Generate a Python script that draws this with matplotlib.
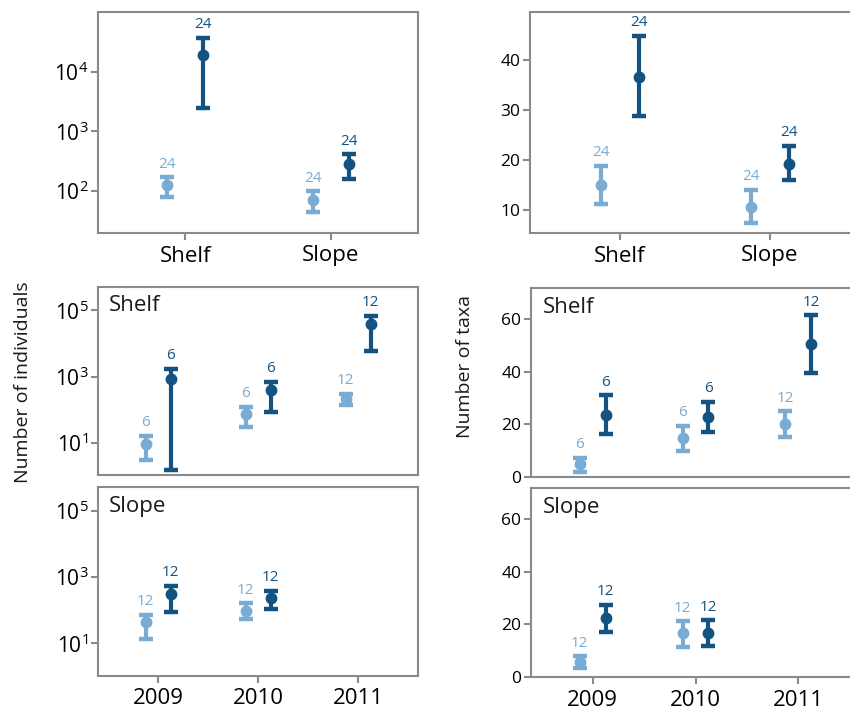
import matplotlib
matplotlib.use('Agg')
import matplotlib.pyplot as plt
import numpy as np

plt.rcParams['font.family'] = ['Open Sans', 'DejaVu Sans']
plt.rcParams['mathtext.fontset'] = 'custom'
plt.rcParams['mathtext.rm'] = 'Open Sans'
plt.rcParams['mathtext.it'] = 'Open Sans:italic'
plt.rcParams['mathtext.bf'] = 'Open Sans:bold'

# ---------------- data ----------------
habitats = ['Shelf', 'Slope']
years = ['2009', '2010', '2011']

# Top row (by habitat) - number of individuals
ind_hab_light = [126, 71]
ind_hab_light_lo = [79, 45]
ind_hab_light_hi = [170, 100]
ind_hab_dark = [19300, 283]
ind_hab_dark_lo = [2500, 160]
ind_hab_dark_hi = [37000, 417]
n_hab_light = [24, 24]
n_hab_dark = [24, 24]

# Top row (by habitat) - number of taxa
tax_hab_light = [15.0, 10.6]
tax_hab_light_lo = [11.2, 7.4]
tax_hab_light_hi = [18.8, 14.0]
tax_hab_dark = [36.6, 19.2]
tax_hab_dark_lo = [28.8, 16.0]
tax_hab_dark_hi = [44.8, 22.8]

# Shelf by year - individuals
ind_shelf_light = [9.3, 71, 215]
ind_shelf_light_lo = [3.0, 30, 140]
ind_shelf_light_hi = [16, 123, 300]
ind_shelf_dark = [870, 380, 40000]
ind_shelf_dark_lo = [1.5, 87, 5800]
ind_shelf_dark_hi = [1750, 700, 70000]
n_shelf_light = [6, 6, 12]
n_shelf_dark = [6, 6, 12]

# Slope by year - individuals (no 2011 samples)
ind_slope_light = [43, 98, np.nan]
ind_slope_light_lo = [14, 56, np.nan]
ind_slope_light_hi = [74, 160, np.nan]
ind_slope_dark = [316, 240, np.nan]
ind_slope_dark_lo = [91, 112, np.nan]
ind_slope_dark_hi = [550, 390, np.nan]
n_slope_light = [12, 12, None]
n_slope_dark = [12, 12, None]

# Shelf by year - taxa
tax_shelf_light = [4.9, 14.8, 20.1]
tax_shelf_light_lo = [1.9, 9.9, 15.2]
tax_shelf_light_hi = [7.2, 19.4, 25.0]
tax_shelf_dark = [23.5, 22.8, 50.5]
tax_shelf_dark_lo = [16.3, 17.1, 39.5]
tax_shelf_dark_hi = [31.1, 28.5, 61.5]

# Slope by year - taxa
tax_slope_light = [5.7, 16.6, np.nan]
tax_slope_light_lo = [3.4, 11.3, np.nan]
tax_slope_light_hi = [7.9, 21.1, np.nan]
tax_slope_dark = [22.3, 16.6, np.nan]
tax_slope_dark_lo = [17.0, 11.7, np.nan]
tax_slope_dark_hi = [27.5, 21.5, np.nan]

LIGHT = '#7aabd3'
DARK = '#135281'
SPINE = '#8a8a8a'

W, H = 850, 710
fig = plt.figure(figsize=(8.5, 7.1), dpi=100)


def add_ax(x0, y0, x1, y1):
    return fig.add_axes([x0 / W, 1 - y1 / H, (x1 - x0) / W, (y1 - y0) / H])


def style(ax):
    for s in ax.spines.values():
        s.set_color(SPINE)
        s.set_linewidth(1.5)
    ax.tick_params(axis='both', color=SPINE, width=1.5, length=5, direction='out')
    ax.tick_params(axis='y', labelsize=12.5, pad=2)
    ax.tick_params(axis='x', labelsize=16, pad=4)
    ax.tick_params(which='minor', length=0)
    ax.set_facecolor('white')


def draw(ax, cats, mean, lo, hi, n, color, off, log=False):
    x = np.arange(len(cats)) + off
    mean = np.array(mean, dtype=float)
    lo = np.array(lo, dtype=float)
    hi = np.array(hi, dtype=float)
    ok = ~np.isnan(mean)
    ax.errorbar(x[ok], mean[ok], yerr=[mean[ok] - lo[ok], hi[ok] - mean[ok]],
                fmt='o', color=color, ms=7.5, elinewidth=3.0, capsize=5,
                capthick=3.2, zorder=3)
    for xi, h, ni in zip(x[ok], hi[ok], np.array(n, dtype=object)[ok]):
        ax.annotate(str(ni), (xi, h), xytext=(0, 4), textcoords='offset points',
                    ha='center', va='bottom', color=color, fontsize=11)


def log_fmt(ax, exps):
    ax.set_yscale('log')
    ax.set_yticks([10.0 ** e for e in exps])
    ax.set_yticklabels([r'$\mathregular{10^{%d}}$' % e for e in exps], fontsize=15)
    ax.yaxis.set_minor_locator(matplotlib.ticker.NullLocator())


D = 0.125

# top-left
ax = add_ax(98, 12, 418, 233)
style(ax)
draw(ax, habitats, ind_hab_light, ind_hab_light_lo, ind_hab_light_hi, n_hab_light, LIGHT, -D)
draw(ax, habitats, ind_hab_dark, ind_hab_dark_lo, ind_hab_dark_hi, n_hab_dark, DARK, D)
log_fmt(ax, [2, 3, 4])
ax.set_ylim(10 ** 1.3, 10 ** 5.0)
ax.set_xlim(-0.6, 1.6)
ax.set_xticks(range(len(habitats)))
ax.set_xticklabels(habitats)

# top-right
ax = add_ax(530, 12, 860, 233)
style(ax)
draw(ax, habitats, tax_hab_light, tax_hab_light_lo, tax_hab_light_hi, n_hab_light, LIGHT, -D)
draw(ax, habitats, tax_hab_dark, tax_hab_dark_lo, tax_hab_dark_hi, n_hab_dark, DARK, D)
ax.set_ylim(5.4, 49.6)
ax.set_yticks([10, 20, 30, 40])
ax.set_xlim(-0.6, 1.6)
ax.set_xticks(range(len(habitats)))
ax.set_xticklabels(habitats)

panels = [
    ((98, 287, 418, 475), 'ind', 'Shelf',
     (ind_shelf_light, ind_shelf_light_lo, ind_shelf_light_hi, n_shelf_light),
     (ind_shelf_dark, ind_shelf_dark_lo, ind_shelf_dark_hi, n_shelf_dark), False),
    ((98, 487, 418, 676), 'ind', 'Slope',
     (ind_slope_light, ind_slope_light_lo, ind_slope_light_hi, n_slope_light),
     (ind_slope_dark, ind_slope_dark_lo, ind_slope_dark_hi, n_slope_dark), True),
    ((531, 288, 860, 477), 'tax', 'Shelf',
     (tax_shelf_light, tax_shelf_light_lo, tax_shelf_light_hi, n_shelf_light),
     (tax_shelf_dark, tax_shelf_dark_lo, tax_shelf_dark_hi, n_shelf_dark), False),
    ((531, 488, 860, 677), 'tax', 'Slope',
     (tax_slope_light, tax_slope_light_lo, tax_slope_light_hi, n_slope_light),
     (tax_slope_dark, tax_slope_dark_lo, tax_slope_dark_hi, n_slope_dark), True),
]

for box, kind, title, light, dark, bottom in panels:
    ax = add_ax(*box)
    style(ax)
    draw(ax, years, *light, LIGHT, -D)
    draw(ax, years, *dark, DARK, D)
    if kind == 'ind':
        log_fmt(ax, [1, 3, 5])
        ax.set_ylim(10 ** 0.02, 10 ** 5.71)
    else:
        ax.set_ylim(0, 71.8)
        ax.set_yticks([0, 20, 40, 60])
    ax.set_xlim(-0.6, 2.6)
    ax.set_xticks(range(len(years)))
    if bottom:
        ax.set_xticklabels(years)
    else:
        ax.tick_params(axis='x', length=0, labelbottom=False)
    ax.text(0.035, 0.955, title, transform=ax.transAxes, ha='left', va='top',
            fontsize=16, color='#1a1a1a')

fig.text(23 / W, 1 - 382 / H, 'Number of individuals', rotation=90,
         ha='center', va='center', fontsize=14, color='#1a1a1a')
fig.text(465 / W, 1 - 367 / H, 'Number of taxa', rotation=90,
         ha='center', va='center', fontsize=14, color='#1a1a1a')

fig.savefig('out.png', dpi=100, facecolor='white')
